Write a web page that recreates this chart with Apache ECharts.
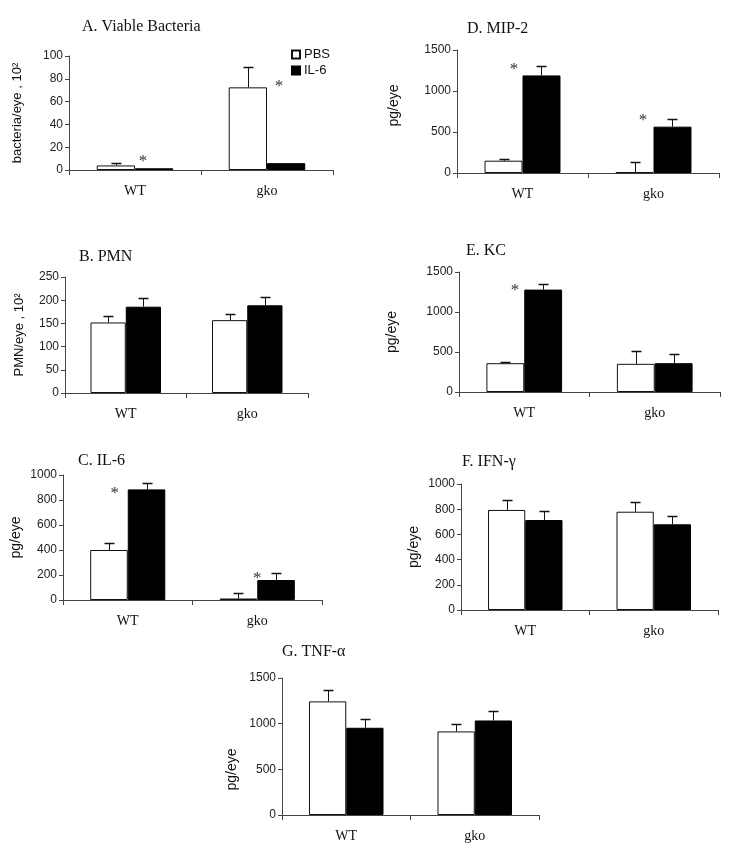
<!DOCTYPE html>
<html><head><meta charset="utf-8">
<script src="https://cdn.jsdelivr.net/npm/echarts@6/dist/echarts.min.js"></script>
<style>html,body{margin:0;padding:0;background:#fff}#c{width:732px;height:853px}</style>
</head><body><div id="c"></div>
<script>
const categories = ['WT', 'gko'];
const seriesNames = ['PBS', 'IL-6'];

// A. Viable Bacteria
const pbsA = [4, 72.5], pbsErrA = [6, 90], il6A = [1.5, 6], il6ErrA = [null, null];
const starsA = [[0, 11, 0.06], [1, 77, 0.09]];
// B. PMN
const pbsB = [152, 157], pbsErrB = [166, 171], il6B = [186, 189], il6ErrB = [204, 207];
const starsB = [];
// C. IL-6
const pbsC = [400, 12], pbsErrC = [453, 59], il6C = [885, 160], il6ErrC = [939, 213];
const starsC = [[0, 885, -0.10], [1, 205, 0.0]];
// D. MIP-2
const pbsD = [150, 10], pbsErrD = [167, 140], il6D = [1190, 565], il6ErrD = [1305, 660];
const starsD = [[0, 1305, -0.065], [1, 683, -0.08]];
// E. KC
const pbsE = [360, 352], pbsErrE = [373, 518], il6E = [1280, 360], il6ErrE = [1347, 472];
const starsE = [[0, 1314, -0.07]];
// F. IFN-γ
const pbsF = [794, 780], pbsErrF = [873, 860], il6F = [714, 680], il6ErrF = [783, 749];
const starsF = [];
// G. TNF-α
const pbsG = [1244, 915], pbsErrG = [1365, 999], il6G = [955, 1035], il6ErrG = [1050, 1134];
const starsG = [];

const titles = ['A. Viable Bacteria', 'B. PMN', 'C. IL-6', 'D. MIP-2', 'E. KC', 'F. IFN-\u03b3', 'G. TNF-\u03b1'];
const yNames = ['bacteria/eye , 10\u00b2', 'PMN/eye , 10\u00b2', 'pg/eye', 'pg/eye', 'pg/eye', 'pg/eye', 'pg/eye'];
const yMax = [100, 250, 1000, 1500, 1500, 1000, 1500];
const yInterval = [20, 50, 200, 500, 500, 200, 500];

const panels = [
  [pbsA, pbsErrA, il6A, il6ErrA, starsA],
  [pbsB, pbsErrB, il6B, il6ErrB, starsB],
  [pbsC, pbsErrC, il6C, il6ErrC, starsC],
  [pbsD, pbsErrD, il6D, il6ErrD, starsD],
  [pbsE, pbsErrE, il6E, il6ErrE, starsE],
  [pbsF, pbsErrF, il6F, il6ErrF, starsF],
  [pbsG, pbsErrG, il6G, il6ErrG, starsG]
];

// layout (pixels)
const gridPos = [
  {left: 69, right: 399, top: 56, bottom: 683},
  {left: 65, right: 424, top: 277, bottom: 460},
  {left: 63, right: 410, top: 475, bottom: 253},
  {left: 457, right: 13, top: 50, bottom: 680},
  {left: 459, right: 12, top: 272, bottom: 461},
  {left: 461, right: 14, top: 484, bottom: 243},
  {left: 282, right: 193, top: 678, bottom: 38}
];
const titlePos = [[77, 14], [74, 244], [73, 448], [462, 16], [461, 238], [457, 449], [277, 639]];
const nameGaps = [45, 39, 40, 56, 60, 40, 43];
const namePad = [[0,0,0,0],[0,0,0,0],[0,0,0,0],[0,0,0,12],[0,0,0,0],[0,0,0,0],[0,46,0,0]];

const BAR_W = 0.29;
const sans = "'Liberation Sans', Arial, sans-serif";
const serif = "'Liberation Serif', 'Times New Roman', serif";

const option = {
  animation: false,
  backgroundColor: '#fff',
  title: titles.map((t, i) => ({
    text: t, left: titlePos[i][0], top: titlePos[i][1],
    textStyle: {fontFamily: serif, fontSize: 16, fontWeight: 'normal', color: '#111'}
  })),
  legend: {
    data: seriesNames, orient: 'vertical', left: 286, top: 43,
    itemWidth: 8, itemHeight: 8, itemGap: 3,
    textStyle: {fontFamily: sans, fontSize: 13, color: '#111', padding: [0, 0, 0, -1]},
    icon: 'rect'
  },
  grid: gridPos.map(g => Object.assign({containLabel: false}, g)),
  xAxis: gridPos.map((g, i) => ({
    type: 'category', gridIndex: i, data: categories,
    axisLine: {lineStyle: {color: '#444', width: 1}},
    axisTick: {show: true, length: 5, lineStyle: {color: '#444'}},
    axisLabel: {fontFamily: serif, fontSize: 14, color: '#111', margin: 14},
    splitLine: {show: false}
  })),
  yAxis: gridPos.map((g, i) => ({
    type: 'value', gridIndex: i, min: 0, max: yMax[i], interval: yInterval[i],
    name: yNames[i], nameLocation: 'middle', nameGap: nameGaps[i], nameRotate: 90,
    nameTextStyle: {fontFamily: sans, fontSize: i < 2 ? 13 : 14, color: '#111', padding: namePad[i]},
    axisLine: {show: true, lineStyle: {color: '#444', width: 1}},
    axisTick: {show: true, length: 4, lineStyle: {color: '#444'}},
    axisLabel: {fontFamily: sans, fontSize: 12, color: '#222', margin: 6, formatter: v => String(v)},
    splitLine: {show: false}
  })),
  series: []
};

function errRender(params, api) {
  const cat = api.value(0), top = api.value(1), val = api.value(2), side = api.value(3);
  const band = api.size([1, 0])[0];
  const pTop = api.coord([cat, top]);
  const pBase = api.coord([cat, val]);
  const x = Math.round(pTop[0] + (side === 0 ? -1 : 1) * band * BAR_W / 2) + 0.5;
  const yt = Math.round(pTop[1]) + 0.5;
  return {
    type: 'group',
    children: [
      {type: 'line', shape: {x1: x, y1: pBase[1], x2: x, y2: yt}, style: {stroke: '#111', lineWidth: 1}},
      {type: 'line', shape: {x1: x - 5, y1: yt, x2: x + 5, y2: yt}, style: {stroke: '#111', lineWidth: 1.5}}
    ]
  };
}
function starRender(params, api) {
  const band = api.size([1, 0])[0];
  const p = api.coord([api.value(0), api.value(1)]);
  return {
    type: 'text',
    style: {text: '*', x: p[0] + api.value(2) * band, y: p[1] + 4, fontFamily: serif, fontSize: 17,
            fill: '#333', align: 'center', verticalAlign: 'middle'}
  };
}

panels.forEach((p, i) => {
  const [pbs, pbsErr, il6, il6Err, stars] = p;
  option.series.push({
    name: 'PBS', type: 'bar', xAxisIndex: i, yAxisIndex: i, data: pbs,
    barWidth: (BAR_W * 100) + '%', barGap: '0%',
    itemStyle: {color: '#fff', borderColor: '#111', borderWidth: 1}
  });
  option.series.push({
    name: 'IL-6', type: 'bar', xAxisIndex: i, yAxisIndex: i, data: il6,
    barWidth: (BAR_W * 100) + '%', barGap: '0%',
    itemStyle: {color: '#000', borderColor: '#000', borderWidth: 1}
  });
  const errData = [];
  categories.forEach((c, k) => {
    if (pbsErr[k] != null) errData.push([k, pbsErr[k], pbs[k], 0]);
    if (il6Err[k] != null) errData.push([k, il6Err[k], il6[k], 1]);
  });
  option.series.push({
    type: 'custom', xAxisIndex: i, yAxisIndex: i, data: errData, renderItem: errRender, z: 5,
    encode: {x: 0, y: [1, 2]}
  });
  if (stars.length) {
    option.series.push({
      type: 'custom', xAxisIndex: i, yAxisIndex: i, data: stars, renderItem: starRender, z: 6,
      encode: {x: 0, y: 1}
    });
  }
});

const chart = echarts.init(document.getElementById('c'), null, {renderer: 'canvas'});
chart.setOption(option);
</script>
</body></html>
